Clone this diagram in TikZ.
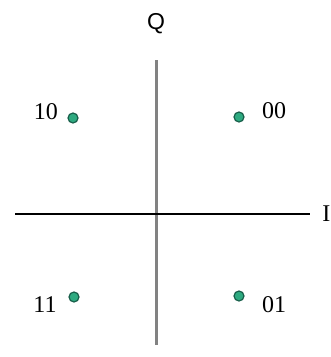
\documentclass[tikz,border=0pt]{standalone}
\usepackage{fontspec}
\setmainfont{Liberation Serif}
\newfontfamily\qfont{Liberation Sans}
\definecolor{dotfill}{RGB}{46,170,128}
\definecolor{dotedge}{RGB}{25,95,75}
\definecolor{axgray}{RGB}{130,130,130}
\begin{document}
\begin{tikzpicture}[x=1pt,y=-1pt,
  pt/.style={circle,fill=dotfill,draw=dotedge,line width=1.2pt,inner sep=0pt,minimum size=10pt},
  lbl/.style={font=\fontsize{24}{24}\selectfont,inner sep=0pt}]
\useasboundingbox (0,0) rectangle (331,357);
\begin{scope}
\clip (0,0) rectangle (331,357);
\coordinate (vt) at (156,60);
\coordinate (vb) at (156,345);
\coordinate (hl) at (15,214);
\coordinate (hr) at (310,214);
\draw[axgray,line width=3pt] (vt) -- (vb);
\draw[black,line width=2pt] (hl) -- (hr);
\node[lbl,font=\qfont\fontsize{23}{23}\selectfont] (Q) at (156,24) {Q};
\node[lbl,anchor=east] (I) at (330.5,214) {I};
\node[pt] (p10) at (73,118) {};
\node[pt] (p00) at (239,117) {};
\node[pt] (p11) at (74,297) {};
\node[pt] (p01) at (239,296) {};
\node[lbl] (l10) at (46,112) {10};
\node[lbl] (l00) at (274,111) {00};
\node[lbl] (l11) at (45,305) {11};
\node[lbl] (l01) at (274,305) {01};
\end{scope}
\end{tikzpicture}
\end{document}
